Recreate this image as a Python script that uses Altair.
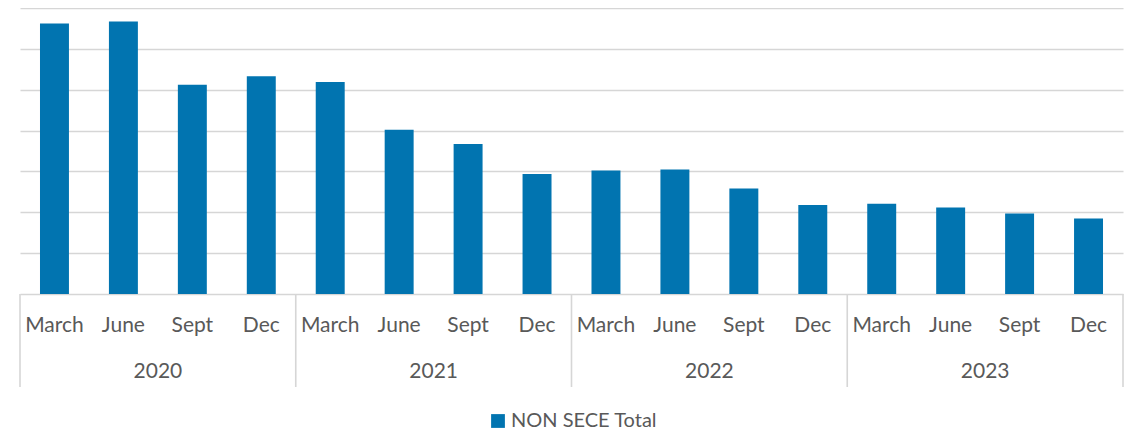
import altair as alt
import pandas as pd

years = ["2020", "2021", "2022", "2023"]
months = ["March", "June", "Sept", "Dec"]
values = [6.62, 6.67, 5.12, 5.33,
          5.19, 4.02, 3.67, 2.94,
          3.02, 3.05, 2.58, 2.18,
          2.21, 2.12, 1.97, 1.85]
series_name = "NON SECE Total"
grid_values = [0, 1, 2, 3, 4, 5, 6, 7]

keys = [f"{y}-{m}" for y in years for m in months]
df = pd.DataFrame({
    "key": keys,
    "month": [m for y in years for m in months],
    "year": [y for y in years for m in months],
    "value": values,
    "series": [series_name] * len(keys),
})

n_per_year = len(months)
year_df = pd.DataFrame({"year": years,
                        "pos": [i * n_per_year + n_per_year / 2 for i in range(len(years))]})
sep_df = pd.DataFrame({"pos": [i * n_per_year for i in range(len(years) + 1)]})

W, H = 1103, 286
FONT = "Lato"
TXT = "#595959"

xband = alt.X("key:N", sort=keys, axis=None,
              scale=alt.Scale(paddingInner=0.58, paddingOuter=0.29))

bars = alt.Chart(df).mark_bar(color="#0174B0").encode(
    x=xband,
    y=alt.Y("value:Q", scale=alt.Scale(domain=[0, 7], nice=False),
            axis=alt.Axis(values=grid_values, labels=False, ticks=False, domain=False,
                          title=None, grid=True, gridColor="#D6D6D6", gridWidth=1.6)),
    color=alt.Color("series:N", scale=alt.Scale(range=["#0174B0"]),
                    legend=alt.Legend(orient="none", legendX=468, legendY=403, title=None,
                                      symbolType="square", symbolSize=190,
                                      symbolStrokeWidth=0, labelFontSize=20,
                                      labelFont=FONT, labelColor=TXT, labelOffset=3)),
)

month_text = alt.Chart(df).mark_text(font=FONT, fontSize=21, color=TXT, baseline="middle").encode(
    x=xband,
    y=alt.value(318),
    text="month:N",
)

xq = alt.Scale(domain=[0, len(keys)], nice=False, zero=False)

year_text = alt.Chart(year_df).mark_text(font=FONT, fontSize=21, color=TXT, baseline="middle").encode(
    x=alt.X("pos:Q", scale=xq, axis=None),
    y=alt.value(364),
    text="year:N",
)

seps = alt.Chart(sep_df).mark_rule(color="#D6D6D6", strokeWidth=1.6).encode(
    x=alt.X("pos:Q", scale=xq, axis=None),
    y=alt.value(H),
    y2=alt.value(379),
)

chart = alt.layer(bars, month_text, year_text, seps).resolve_scale(x="independent").properties(
    width=W, height=H,
    autosize=alt.AutoSizeParams(type="none"),
    padding={"left": 12, "top": 0, "right": 4, "bottom": 140},
).configure_view(stroke=None)

chart.save("out.html", embed_options={"renderer": "svg", "actions": False})
